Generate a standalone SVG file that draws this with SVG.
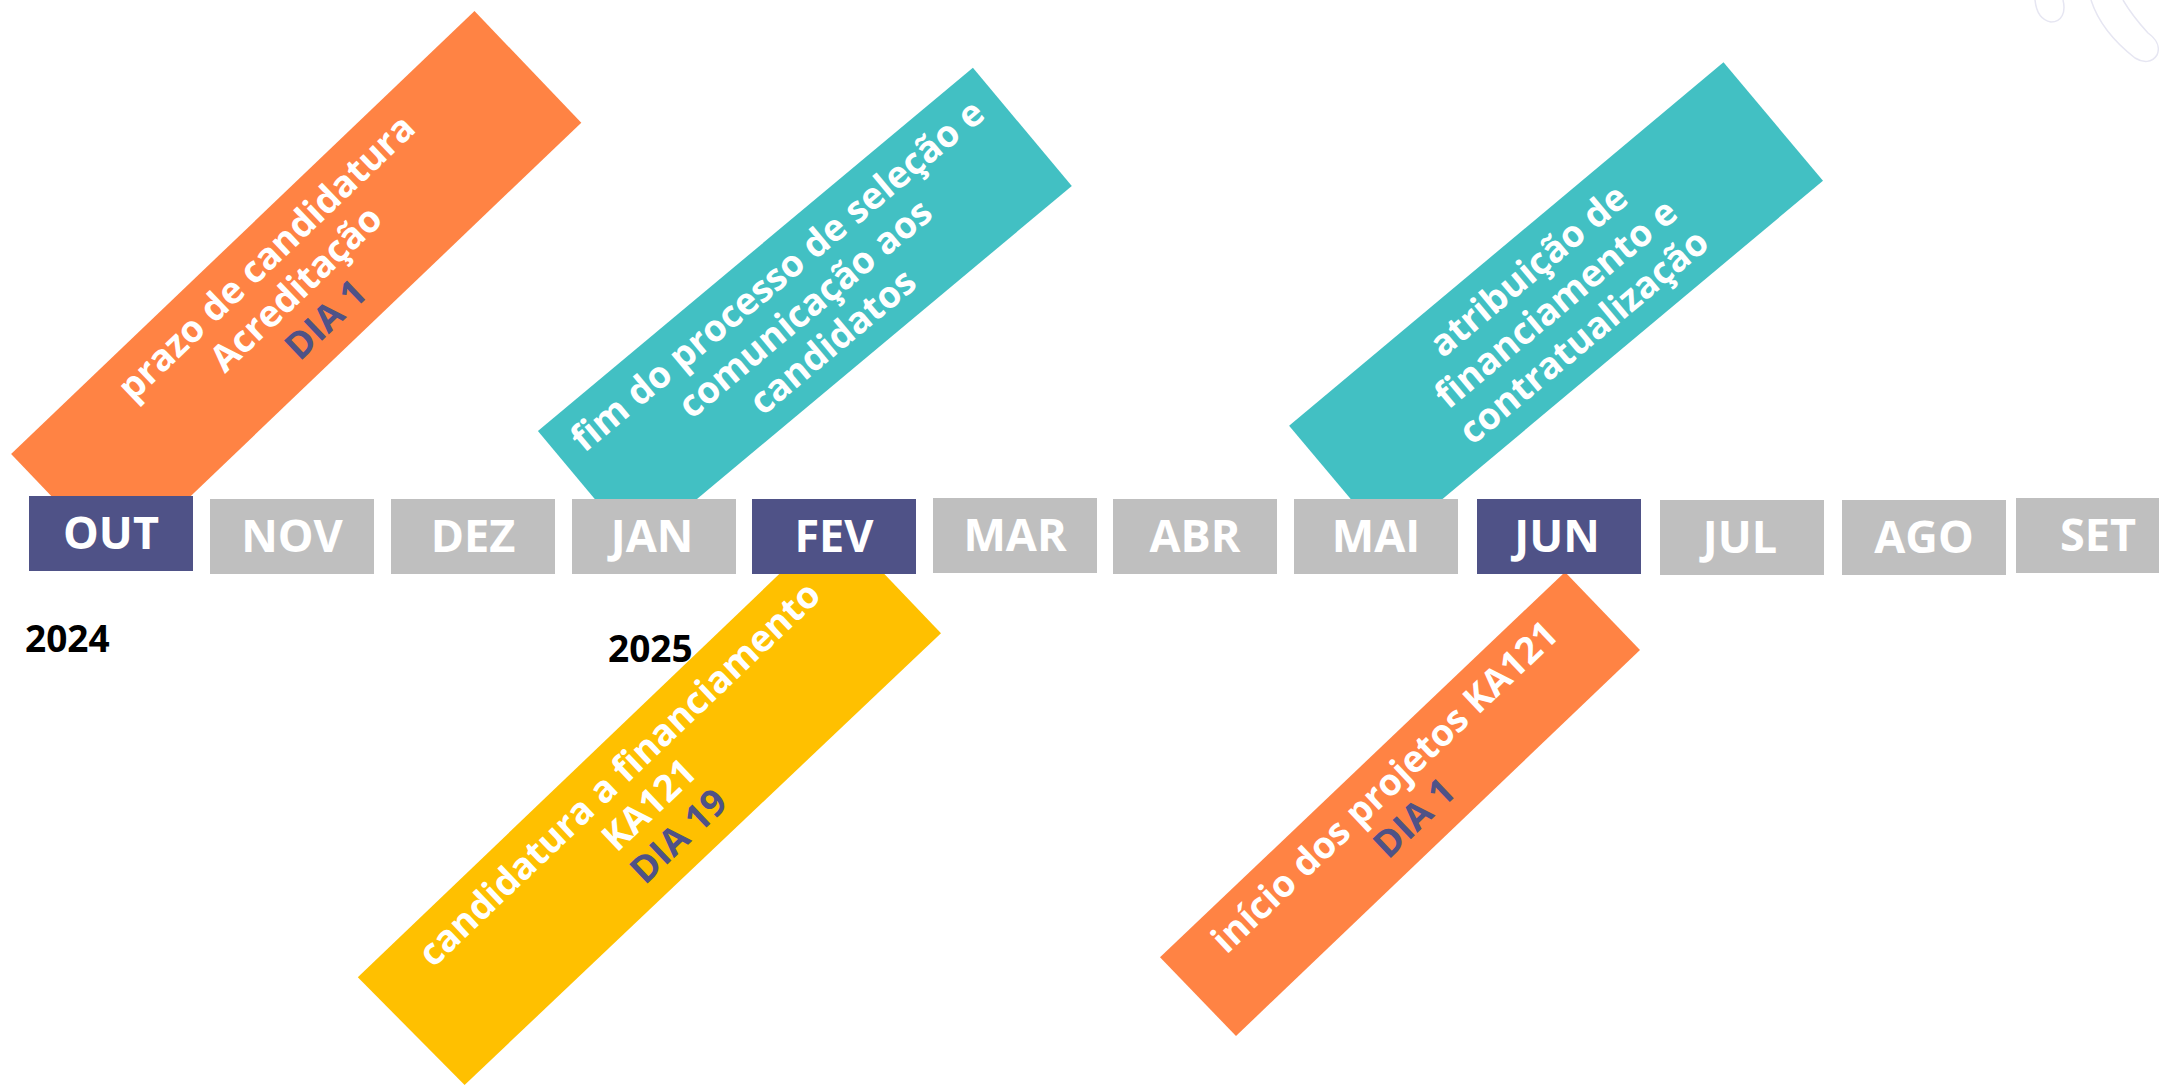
<svg xmlns="http://www.w3.org/2000/svg" width="2159" height="1085" viewBox="0 0 2159 1085">
<style>
.mon{font-family:"Open Sans","Liberation Sans",sans-serif;font-weight:700;font-size:45px;fill:#ffffff;text-anchor:middle}
.yr{font-family:"Open Sans","Liberation Sans",sans-serif;font-weight:700;font-size:37px;fill:#000000}
.lbl{font-family:"Open Sans","Liberation Sans",sans-serif;font-weight:700;font-size:37px;fill:#ffffff;text-anchor:middle}
.dia{fill:#4F5287}
.gray{fill:#BFBFBF}
.dark{fill:#4F5287}
.deco{fill:none;stroke:#E6E6F2;stroke-width:1.5}
</style>
<rect width="2159" height="1085" fill="#ffffff"/>
<g id="decor">
<path class="deco" d="M2035,0 C2036,10 2040,20 2051,22 C2062,22 2066,12 2063,0"/>
<path class="deco" d="M2091,0 C2098,22 2112,40 2135,58 C2143,63 2152,63 2157,55 C2161,46 2155,38 2148,33 C2138,22 2130,12 2123,0"/>
</g>
<g id="band-acreditacao">
<polygon points="474.5,11 581.3,122.7 117.9,565.7 11.1,454" fill="#FF8344"/>
<g transform="translate(296.5,289) rotate(-43.7)">
<text class="lbl" x="0" y="-31">prazo de candidatura</text>
<text class="lbl" x="0" y="12">Acreditação</text>
<text class="lbl dia" x="0" y="55">DIA 1</text>
</g>
</g>
<g id="band-selecao">
<polygon points="972.9,67.7 1071.8,186 636.8,549.3 537.9,431" fill="#42C0C3"/>
<g transform="translate(805.5,309) rotate(-39.9)">
<text class="lbl" x="0" y="-31">fim do processo de seleção e</text>
<text class="lbl" x="0" y="12">comunicação aos</text>
<text class="lbl" x="0" y="55">candidatos</text>
</g>
</g>
<g id="band-atribuicao">
<polygon points="1723.5,62.3 1823,180.7 1388.6,544.1 1289.1,425.7" fill="#42C0C3"/>
<g transform="translate(1556.5,304) rotate(-39.9)">
<text class="lbl" x="0" y="-31">atribuição de</text>
<text class="lbl" x="0" y="12">financiamento e</text>
<text class="lbl" x="0" y="55">contratualização</text>
</g>
</g>
<g id="band-candidatura">
<polygon points="357.8,977.3 834.2,521.5 941,633.2 464.6,1085" fill="#FFC000"/>
<g transform="translate(649.5,805.5) rotate(-43.6)">
<text class="lbl" x="0" y="-31">candidatura a financiamento</text>
<text class="lbl" x="0" y="12">KA121</text>
<text class="lbl dia" x="0" y="55">DIA 19</text>
</g>
</g>
<g id="band-inicio">
<polygon points="1565,572 1640,650 1236,1036 1160,957.3" fill="#FF8344"/>
<g transform="translate(1400,803) rotate(-43.6)">
<text class="lbl" x="0" y="-9.5">início dos projetos KA121</text>
<text class="lbl dia" x="0" y="33.5">DIA 1</text>
</g>
</g>
<g id="months">
<g id="m-out"><rect class="dark" x="29" y="496" width="164" height="75"/><text class="mon" x="111" y="549">OUT</text></g>
<g id="m-nov"><rect class="gray" x="210" y="499" width="164" height="75"/><text class="mon" x="292" y="552">NOV</text></g>
<g id="m-dez"><rect class="gray" x="391" y="499" width="164" height="75"/><text class="mon" x="473" y="552">DEZ</text></g>
<g id="m-jan"><rect class="gray" x="572" y="499" width="164" height="75"/><text class="mon" x="652" y="552">JAN</text></g>
<g id="m-fev"><rect class="dark" x="752" y="499" width="164" height="75"/><text class="mon" x="834" y="552">FEV</text></g>
<g id="m-mar"><rect class="gray" x="933" y="498" width="164" height="75"/><text class="mon" x="1015" y="551">MAR</text></g>
<g id="m-abr"><rect class="gray" x="1113" y="499" width="164" height="75"/><text class="mon" x="1195" y="552">ABR</text></g>
<g id="m-mai"><rect class="gray" x="1294" y="499" width="164" height="75"/><text class="mon" x="1376" y="552">MAI</text></g>
<g id="m-jun"><rect class="dark" x="1477" y="499" width="164" height="75"/><text class="mon" x="1557" y="552">JUN</text></g>
<g id="m-jul"><rect class="gray" x="1660" y="500" width="164" height="75"/><text class="mon" x="1740" y="553">JUL</text></g>
<g id="m-ago"><rect class="gray" x="1842" y="500" width="164" height="75"/><text class="mon" x="1924" y="553">AGO</text></g>
<g id="m-set"><rect class="gray" x="2016" y="498" width="150" height="75"/><text class="mon" x="2098" y="551">SET</text></g>
</g>
<g id="years">
<text class="yr" x="25" y="652">2024</text>
<text class="yr" x="608" y="662">2025</text>
</g>
</svg>
